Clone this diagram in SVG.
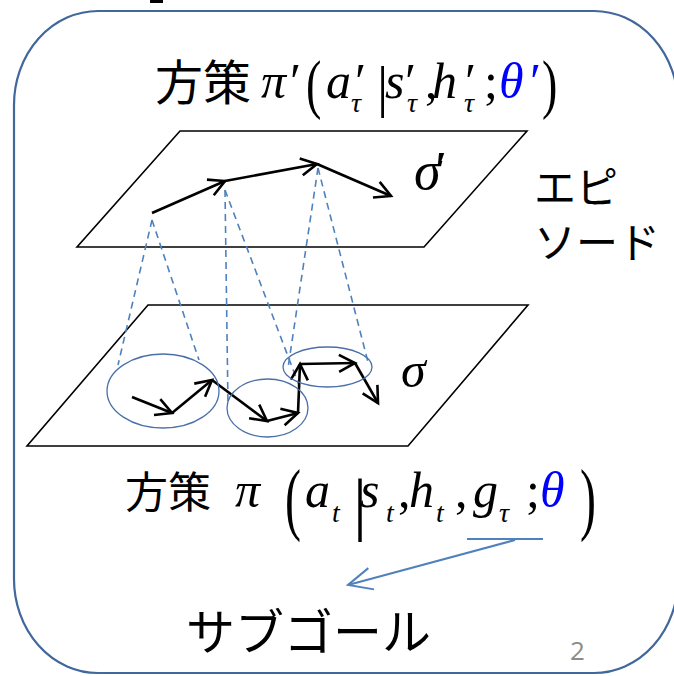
<svg xmlns="http://www.w3.org/2000/svg" width="674" height="676" viewBox="0 0 674 676">
<defs>
<style>
.cjk{font-family:"Noto Sans CJK JP","Noto Sans",sans-serif;fill:#000}
.m{font-family:"Liberation Serif","Times New Roman",serif;font-style:italic;font-size:50px;fill:#000}
.u{font-family:"Liberation Serif","Times New Roman",serif;font-style:normal;font-size:50px;fill:#000}
.sub{font-size:28px}
.b{fill:#0000ff}
.plane{fill:#fff;stroke:#000;stroke-width:1.6}
.traj{fill:none;stroke:#000;stroke-width:2.6;stroke-linejoin:miter}
.dash{fill:none;stroke:#4f81bd;stroke-width:1.6;stroke-dasharray:7 5}
.circ{fill:none;stroke:#4a70a8;stroke-width:1.3}
</style>
<marker id="ah" markerUnits="userSpaceOnUse" markerWidth="24" markerHeight="24" viewBox="-20 -12 24 24" refX="0" refY="0" orient="auto" overflow="visible">
<path d="M-16,-8.5 L0,0 L-16,8.5" fill="none" stroke="#000" stroke-width="2.6"/>
</marker>
<marker id="bh" markerUnits="userSpaceOnUse" markerWidth="30" markerHeight="30" viewBox="-25 -15 30 30" refX="0" refY="0" orient="auto" overflow="visible">
<path d="M-24,-11 L0,0 L-24,11" fill="none" stroke="#4f81bd" stroke-width="2"/>
</marker>
</defs>
<rect x="0" y="0" width="674" height="676" fill="#fff"/>
<rect x="150" y="0" width="13" height="3" fill="#000"/>
<g id="frame">
<rect x="14" y="11" width="664" height="662" rx="84" ry="94" fill="none" stroke="#41679b" stroke-width="2.2"/>
</g>
<g id="title-top">
<text class="cjk" x="155" y="100" font-size="48">方策</text>
<text class="m"><tspan x="261" y="98">π</tspan><tspan x="287" y="98">′</tspan><tspan x="326" y="98">a</tspan><tspan x="352" y="98">′</tspan><tspan class="sub" x="351" y="112">τ</tspan><tspan class="u" x="377" y="106" style="font-size:56px">|</tspan><tspan x="385" y="98">s</tspan><tspan x="402" y="98">′</tspan><tspan class="sub" x="407" y="112">τ</tspan><tspan class="u" x="425" y="98">,</tspan><tspan x="432" y="98">h</tspan><tspan x="462" y="98">′</tspan><tspan class="sub" x="464" y="112">τ</tspan><tspan class="u" x="484" y="98">;</tspan><tspan class="b" x="499" y="98">θ</tspan><tspan class="b" x="527" y="98">′</tspan></text>
<text class="u" transform="translate(306,106) scale(0.7,1)" style="font-size:66px">(</text>
<text class="u" transform="translate(542,106) scale(0.7,1)" style="font-size:66px">)</text>
</g>
<g id="plane-top">
<polygon class="plane" points="180,131 527,131 424,247 77,247"/>
<text class="m" x="414" y="189" style="font-size:54px">σ<tspan dx="-9">′</tspan></text>
</g>
<g id="label-episode">
<text class="cjk" x="534" y="203" font-size="42">エピ</text>
<text class="cjk" x="534" y="258" font-size="42">ソード</text>
</g>
<g id="plane-bottom">
<polygon class="plane" points="148,305 528,305 408,446 27,446"/>
<text class="m" x="401" y="387" style="font-size:50px">σ</text>
</g>
<g id="connectors">
<line class="dash" x1="152" y1="220" x2="118" y2="365"/>
<line class="dash" x1="152" y1="220" x2="199" y2="360"/>
<line class="dash" x1="225" y1="190" x2="228" y2="405"/>
<line class="dash" x1="225" y1="190" x2="300" y2="388"/>
<line class="dash" x1="318" y1="168" x2="288" y2="368"/>
<line class="dash" x1="318" y1="168" x2="368" y2="362"/>
<polyline class="traj" points="152,213 225,181" marker-end="url(#ah)"/>
<polyline class="traj" points="225,181 317,164" marker-end="url(#ah)"/>
<polyline class="traj" points="317,164 391,196" marker-end="url(#ah)"/>
<polyline class="traj" points="132,397 172,413" marker-end="url(#ah)"/>
<polyline class="traj" points="172,413 212,380" marker-end="url(#ah)"/>
<polyline class="traj" points="212,380 267,421" marker-end="url(#ah)"/>
<polyline class="traj" points="267,421 298,413" marker-end="url(#ah)"/>
<polyline class="traj" points="298,413 300,364" marker-end="url(#ah)"/>
<polyline class="traj" points="300,364 355,363" marker-end="url(#ah)"/>
<polyline class="traj" points="355,363 378,403" marker-end="url(#ah)"/>
<line x1="467" y1="539" x2="543" y2="539" stroke="#4f81bd" stroke-width="2"/>
<line x1="515" y1="540" x2="348" y2="585" stroke="#4f81bd" stroke-width="2" marker-end="url(#bh)"/>
</g>
<g id="subgoal-circles">
<ellipse class="circ" cx="163" cy="391" rx="56" ry="37"/>
<ellipse class="circ" cx="267.5" cy="408" rx="40.5" ry="29"/>
<ellipse class="circ" cx="327.5" cy="367" rx="44.5" ry="20"/>
</g>
<g id="title-bottom">
<text class="cjk" x="125" y="508" font-size="43">方策</text>
<text class="m"><tspan x="235" y="507">π</tspan><tspan x="305" y="507">a</tspan><tspan class="sub" x="332" y="522">t</tspan><tspan class="u" x="353" y="527" style="font-size:70px">|</tspan><tspan x="360" y="507">s</tspan><tspan class="sub" x="386" y="522">t</tspan><tspan class="u" x="398" y="507">,</tspan><tspan x="409" y="507">h</tspan><tspan class="sub" x="436" y="522">t</tspan><tspan class="u" x="455" y="507">,</tspan><tspan x="473" y="507">g</tspan><tspan class="sub" x="499" y="522">τ</tspan><tspan class="u" x="526" y="507">;</tspan><tspan class="b" x="540" y="507">θ</tspan></text>
<text class="u" transform="translate(285,525) scale(0.6,1)" style="font-size:80px">(</text>
<text class="u" transform="translate(580,525) scale(0.6,1)" style="font-size:80px">)</text>
</g>
<g id="label-subgoal">
<text class="cjk" x="186" y="650" font-size="49">サブゴール</text>
</g>
<g id="page-number">
<text x="570" y="660" font-family="'Open Sans','Liberation Sans',sans-serif" font-size="26" fill="#8c8c8c">2</text>
</g>
</svg>
